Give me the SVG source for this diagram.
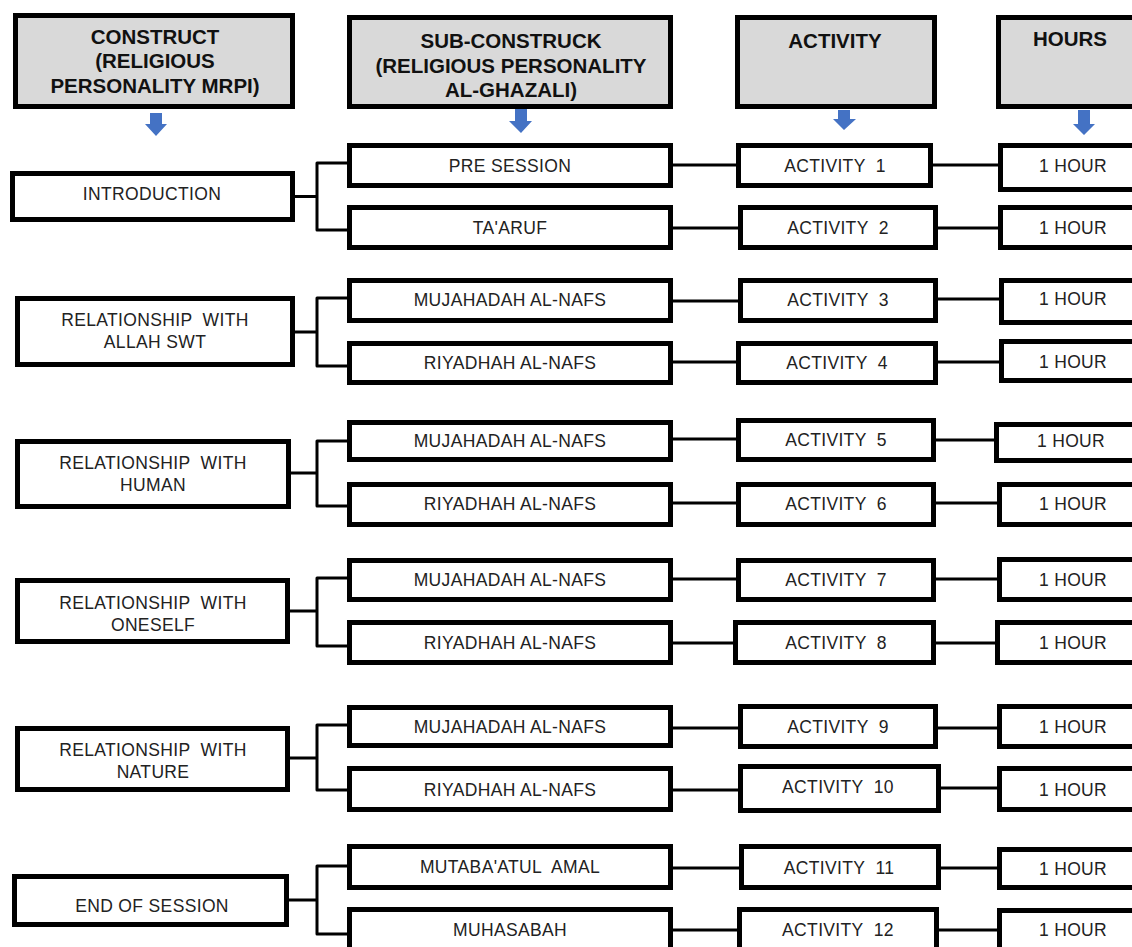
<svg xmlns="http://www.w3.org/2000/svg" width="1132" height="947" viewBox="0 0 1132 947">
<style>
.hb{fill:#d9d9d9;stroke:#000;stroke-width:5}
.b{fill:#fff;stroke:#000;stroke-width:5}
.h{font-family:"Liberation Sans",Arial,sans-serif;font-weight:bold;font-size:20.5px;fill:#111;text-anchor:middle;white-space:pre}
.t{font-family:"Liberation Sans",Arial,sans-serif;font-size:17.5px;fill:#222;text-anchor:middle;letter-spacing:0.35px;white-space:pre}
.c{fill:none;stroke:#000;stroke-width:3;stroke-linejoin:round}
.ar{fill:#4472c4}
</style>
<rect width="1132" height="947" fill="#fff"/>
<g id="connectors">
<path class="c" d="M295,196.5H317M347,163H317V230H347"/>
<path class="c" d="M295,332H317M347,298H317V366H347"/>
<path class="c" d="M291,473H317M347,441H317V506H347"/>
<path class="c" d="M290,611H317M347,578H317V646H347"/>
<path class="c" d="M290,758H317M347,725H317V790H347"/>
<path class="c" d="M289,900H317M347,866H317V934H347"/>
<path class="c" d="M672,165H740M932,165H1002"/>
<path class="c" d="M672,228H742M936,228H1002"/>
<path class="c" d="M672,301H742M936,299H1002"/>
<path class="c" d="M672,362H740M936,362H1002"/>
<path class="c" d="M672,439H740M934,440H997"/>
<path class="c" d="M672,503H740M934,503H1000"/>
<path class="c" d="M672,579H740M934,579H1000"/>
<path class="c" d="M672,643H737M934,643H998"/>
<path class="c" d="M672,728H742M936,728H1000"/>
<path class="c" d="M672,790H742M939,788H1000"/>
<path class="c" d="M672,868H743M939,868H1000"/>
<path class="c" d="M672,930H741M937,930H1000"/>
</g>
<g id="arrows">
<path class="ar" d="M150,113H162V124H167L156,136L145,124H150Z"/>
<path class="ar" d="M515,108H527V121H532L521,133L509,121H515Z"/>
<path class="ar" d="M838,110H850V119H856L844,130L833,119H838Z"/>
<path class="ar" d="M1078,110H1090V124H1095L1084,135L1073,124H1078Z"/>
</g>
<g id="h-construct"><rect class="hb" x="15.5" y="15.5" width="277" height="91"/>
<text class="h" x="155" y="44">CONSTRUCT</text><text class="h" x="155" y="68">(RELIGIOUS</text><text class="h" x="155" y="93">PERSONALITY MRPI)</text></g>
<g id="h-sub"><rect class="hb" x="349.5" y="17.5" width="321" height="89"/>
<text class="h" x="511" y="48">SUB-CONSTRUCK</text><text class="h" x="511" y="73">(RELIGIOUS PERSONALITY</text><text class="h" x="511" y="97">AL-GHAZALI)</text></g>
<g id="h-activity"><rect class="hb" x="737.5" y="17.5" width="197" height="89"/>
<text class="h" x="835" y="48">ACTIVITY</text></g>
<g id="h-hours"><rect class="hb" x="998.5" y="17.5" width="150" height="89"/>
<text class="h" x="1070" y="46">HOURS</text></g>

<g id="c-intro"><rect class="b" x="12.5" y="173.5" width="280" height="46"/><text class="t" x="152" y="200">INTRODUCTION</text></g>
<g id="c-allah"><rect class="b" x="17.5" y="298.5" width="275" height="66"/><text class="t" x="155" y="326">RELATIONSHIP  WITH</text><text class="t" x="155" y="348">ALLAH SWT</text></g>
<g id="c-human"><rect class="b" x="17.5" y="441.5" width="271" height="65"/><text class="t" x="153" y="469">RELATIONSHIP  WITH</text><text class="t" x="153" y="491">HUMAN</text></g>
<g id="c-oneself"><rect class="b" x="17.5" y="580.5" width="270" height="61"/><text class="t" x="153" y="609">RELATIONSHIP  WITH</text><text class="t" x="153" y="631">ONESELF</text></g>
<g id="c-nature"><rect class="b" x="17.5" y="728.5" width="270" height="61"/><text class="t" x="153" y="756">RELATIONSHIP  WITH</text><text class="t" x="153" y="778">NATURE</text></g>
<g id="c-end"><rect class="b" x="14.5" y="876.5" width="272" height="48"/><text class="t" x="152" y="912">END OF SESSION</text></g>

<g id="s1"><rect class="b" x="349.5" y="145.5" width="321" height="40"/><text class="t" x="510" y="172">PRE SESSION</text></g>
<g id="s2"><rect class="b" x="349.5" y="207.5" width="321" height="40"/><text class="t" x="510" y="234">TA'ARUF</text></g>
<g id="s3"><rect class="b" x="349.5" y="280.5" width="321" height="40"/><text class="t" x="510" y="306">MUJAHADAH AL-NAFS</text></g>
<g id="s4"><rect class="b" x="349.5" y="343.5" width="321" height="39"/><text class="t" x="510" y="369">RIYADHAH AL-NAFS</text></g>
<g id="s5"><rect class="b" x="349.5" y="422.5" width="321" height="37"/><text class="t" x="510" y="447">MUJAHADAH AL-NAFS</text></g>
<g id="s6"><rect class="b" x="349.5" y="484.5" width="321" height="40"/><text class="t" x="510" y="510">RIYADHAH AL-NAFS</text></g>
<g id="s7"><rect class="b" x="349.5" y="560.5" width="321" height="39"/><text class="t" x="510" y="586">MUJAHADAH AL-NAFS</text></g>
<g id="s8"><rect class="b" x="349.5" y="622.5" width="321" height="40"/><text class="t" x="510" y="649">RIYADHAH AL-NAFS</text></g>
<g id="s9"><rect class="b" x="349.5" y="707.5" width="321" height="38"/><text class="t" x="510" y="733">MUJAHADAH AL-NAFS</text></g>
<g id="s10"><rect class="b" x="349.5" y="768.5" width="321" height="41"/><text class="t" x="510" y="796">RIYADHAH AL-NAFS</text></g>
<g id="s11"><rect class="b" x="349.5" y="846.5" width="321" height="41"/><text class="t" x="510" y="873">MUTABA'ATUL  AMAL</text></g>
<g id="s12"><rect class="b" x="349.5" y="909.5" width="321" height="40"/><text class="t" x="510" y="936">MUHASABAH</text></g>

<g id="a1"><rect class="b" x="738.5" y="145.5" width="192" height="40"/><text class="t" x="835" y="172">ACTIVITY  1</text></g>
<g id="a2"><rect class="b" x="740.5" y="207.5" width="195" height="40"/><text class="t" x="838" y="234">ACTIVITY  2</text></g>
<g id="a3"><rect class="b" x="740.5" y="280.5" width="195" height="40"/><text class="t" x="838" y="306">ACTIVITY  3</text></g>
<g id="a4"><rect class="b" x="738.5" y="343.5" width="197" height="39"/><text class="t" x="837" y="369">ACTIVITY  4</text></g>
<g id="a5"><rect class="b" x="738.5" y="420.5" width="195" height="39"/><text class="t" x="836" y="446">ACTIVITY  5</text></g>
<g id="a6"><rect class="b" x="738.5" y="484.5" width="195" height="40"/><text class="t" x="836" y="510">ACTIVITY  6</text></g>
<g id="a7"><rect class="b" x="738.5" y="560.5" width="195" height="39"/><text class="t" x="836" y="586">ACTIVITY  7</text></g>
<g id="a8"><rect class="b" x="735.5" y="622.5" width="198" height="40"/><text class="t" x="836" y="649">ACTIVITY  8</text></g>
<g id="a9"><rect class="b" x="740.5" y="706.5" width="195" height="40"/><text class="t" x="838" y="733">ACTIVITY  9</text></g>
<g id="a10"><rect class="b" x="740.5" y="766.5" width="198" height="44"/><text class="t" x="838" y="793">ACTIVITY  10</text></g>
<g id="a11"><rect class="b" x="741.5" y="846.5" width="197" height="41"/><text class="t" x="839" y="874">ACTIVITY  11</text></g>
<g id="a12"><rect class="b" x="739.5" y="909.5" width="197" height="40"/><text class="t" x="838" y="936">ACTIVITY  12</text></g>

<g id="r1"><rect class="b" x="1000.5" y="145.5" width="150" height="44"/><text class="t" x="1073" y="172">1 HOUR</text></g>
<g id="r2"><rect class="b" x="1000.5" y="207.5" width="150" height="40"/><text class="t" x="1073" y="234">1 HOUR</text></g>
<g id="r3"><rect class="b" x="1001.5" y="280.5" width="150" height="42"/><text class="t" x="1073" y="305">1 HOUR</text></g>
<g id="r4"><rect class="b" x="1001.5" y="341.5" width="150" height="39"/><text class="t" x="1073" y="368">1 HOUR</text></g>
<g id="r5"><rect class="b" x="996.5" y="424.5" width="150" height="36"/><text class="t" x="1071" y="447">1 HOUR</text></g>
<g id="r6"><rect class="b" x="999.5" y="484.5" width="150" height="40"/><text class="t" x="1073" y="510">1 HOUR</text></g>
<g id="r7"><rect class="b" x="999.5" y="559.5" width="150" height="40"/><text class="t" x="1073" y="586">1 HOUR</text></g>
<g id="r8"><rect class="b" x="997.5" y="622.5" width="150" height="40"/><text class="t" x="1073" y="649">1 HOUR</text></g>
<g id="r9"><rect class="b" x="999.5" y="706.5" width="150" height="40"/><text class="t" x="1073" y="733">1 HOUR</text></g>
<g id="r10"><rect class="b" x="999.5" y="768.5" width="150" height="41"/><text class="t" x="1073" y="796">1 HOUR</text></g>
<g id="r11"><rect class="b" x="999.5" y="849.5" width="150" height="38"/><text class="t" x="1073" y="875">1 HOUR</text></g>
<g id="r12"><rect class="b" x="999.5" y="910.5" width="150" height="40"/><text class="t" x="1073" y="936">1 HOUR</text></g>
</svg>
